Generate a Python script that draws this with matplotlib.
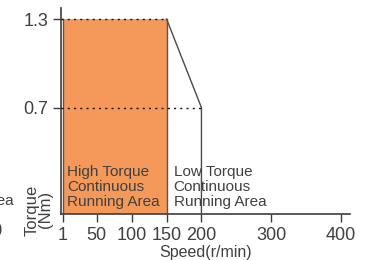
import matplotlib
matplotlib.use("Agg")
import matplotlib.pyplot as plt
import numpy as np

plt.rcParams['font.family'] = ['Liberation Sans', 'DejaVu Sans']

# data
x_ticks = [1, 50, 100, 150, 200, 300, 400]
y_ticks = [0.7, 1.3]
high_speed = [1, 150]          # high torque continuous area (speed range)
high_torque = 1.3
curve_speed = [150, 200, 200]  # boundary of low torque area
curve_torque = [1.3, 0.7, 0.0]
rated_torque = 0.7
rated_speed_end = 200
high_label = "High Torque\nContinuous\nRunning Area"
low_label = "Low Torque\nContinuous\nRunning Area"

orange = '#F5995A'
dark = '#3d3d3d'
text_c = '#404040'

fig = plt.figure(figsize=(3.87, 2.60), dpi=100)
ax = fig.add_axes([61/387, 46/260, 289/387, 206/260])

xlim = (-1.4, 413)
ylim = (-0.02, 1.375)
ax.set_xlim(*xlim)
ax.set_ylim(*ylim)

# orange region
ax.fill_between(high_speed, [high_torque, high_torque], ylim[0],
                facecolor=orange, edgecolor='none', zorder=1)
ax.plot([high_speed[0], high_speed[0]], [ylim[0], high_torque], color='#555555', lw=1.0, zorder=2)
ax.plot([high_speed[1], high_speed[1]], [ylim[0], high_torque], color='#555555', lw=1.0, zorder=2)

# boundary curve
ax.plot(curve_speed, [c if c > 0 else ylim[0] for c in curve_torque],
        color='#4a4a4a', lw=1.0, zorder=3)

# dotted guide lines
ax.plot([xlim[0], high_speed[1]], [high_torque, high_torque], color='#111111', lw=1.0,
        linestyle=(0, (1.5, 3.0)), zorder=4)
ax.plot([xlim[0], rated_speed_end], [rated_torque, rated_torque], color='#111111', lw=1.0,
        linestyle=(0, (1.5, 3.0)), zorder=4)

# area labels
ax.text(7, 0.015, high_label, fontsize=11, color=text_c, ha='left', va='bottom',
        linespacing=1.08, zorder=5)
ax.text(160, 0.015, low_label, fontsize=11, color=text_c, ha='left', va='bottom',
        linespacing=1.08, zorder=5)

# axes styling
for s in ['top', 'right']:
    ax.spines[s].set_visible(False)
for s in ['left', 'bottom']:
    ax.spines[s].set_color(dark)
    ax.spines[s].set_linewidth(1.2)
ax.set_xticks(x_ticks)
ax.set_xticklabels([str(v) for v in x_ticks])
ax.set_yticks(y_ticks)
ax.set_yticklabels([str(v) for v in y_ticks])
ax.tick_params(axis='both', direction='out', length=6, width=1.0, colors=dark,
               labelsize=13, labelcolor=text_c)
ax.tick_params(axis='x', pad=3.5)
ax.tick_params(axis='y', pad=3)

ax.set_xlabel('Speed(r/min)', fontsize=11.5, color=text_c, labelpad=0.5)
ax.set_ylabel('Torque\n(Nm)', fontsize=12, color=text_c, rotation=90,
              ha='center', va='center', rotation_mode='default', linespacing=0.9)
ax.yaxis.set_label_coords(-0.076, 0.02)

# remnants of the neighbouring panel cut at the left edge
fig.text(14/387, 1 - 208/260, low_label, fontsize=11, color=text_c, ha='right', va='bottom',
         multialignment='left', linespacing=1.08)
fig.text(3/387, 1 - 231/260, '400', fontsize=13, color=text_c, ha='right', va='center')

fig.savefig('out.png', dpi=100)
